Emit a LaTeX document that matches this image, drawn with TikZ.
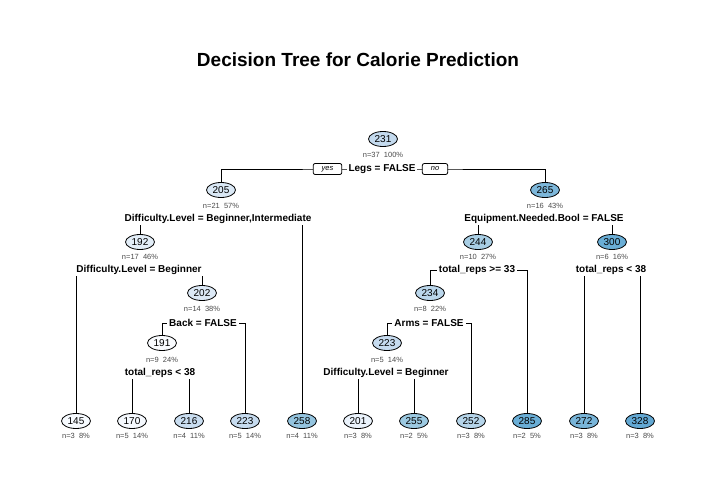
\documentclass[tikz,border=0pt]{standalone}
\usepackage{fontspec}
\setmainfont{Liberation Sans}
\usetikzlibrary{backgrounds,shapes.geometric}
\usepackage{xcolor}

% fill shades of the fitted values
\definecolor{v145}{HTML}{F7FBFF}
\definecolor{v170}{HTML}{F5F9FE}
\definecolor{v191}{HTML}{F9FBFE}
\definecolor{v192}{HTML}{E3EEF8}
\definecolor{v201}{HTML}{EAF2FB}
\definecolor{v202}{HTML}{DCE9F6}
\definecolor{v205}{HTML}{DAE8F5}
\definecolor{v216}{HTML}{C9DDF0}
\definecolor{v223}{HTML}{C6DBEF}
\definecolor{v231}{HTML}{C4DAEE}
\definecolor{v234}{HTML}{BAD6EB}
\definecolor{v244}{HTML}{A8CEE4}
\definecolor{v252}{HTML}{B5D4E9}
\definecolor{v255}{HTML}{9CC9E1}
\definecolor{v258}{HTML}{94C4DF}
\definecolor{v265}{HTML}{7DB7DA}
\definecolor{v272}{HTML}{79B5D9}
\definecolor{v285}{HTML}{6AAED6}
\definecolor{v300}{HTML}{6AAED6}
\definecolor{v328}{HTML}{63A8D3}
\definecolor{infogray}{HTML}{4A4A4A}

\begin{document}
\begin{tikzpicture}[x=1bp,y=-1bp,line width=0.8bp,
    est/.style={ellipse,draw,line width=0.8bp,minimum width=29bp,minimum height=15bp,inner sep=0pt,
        font=\fontsize{10bp}{12bp}\selectfont},
    info/.style={inner sep=0pt,text=infogray,font=\fontsize{7.5bp}{8bp}\selectfont},
    rule/.style={fill=white,inner xsep=2bp,inner ysep=1bp,font=\bfseries\fontsize{10bp}{12bp}\selectfont},
    tag/.style={draw,fill=white,rounded corners=2bp,line width=0.8bp,inner xsep=8.5bp,inner ysep=0pt,
        minimum height=11bp,text height=5bp,text depth=1.5bp,font=\itshape\fontsize{7.5bp}{8bp}\selectfont}]
\useasboundingbox (0,0) rectangle (717,481);

\node[font=\bfseries\fontsize{19bp}{22bp}\selectfont] (title) at (358,60) {Decision Tree for Calorie Prediction};

% root
\node[est,fill=v231] (n1) at (383,139) {231};
\node[info] (t1) at (383,155) {n=37~~100\%};
\node[rule] (q1) at (382,169) {Legs = FALSE};
\node[tag] (yes) at (327.5,169) {yes};
\node[tag] (no) at (435,169) {no};

% left side
\node[est,fill=v205] (n2) at (221,190) {205};
\node[info] (t2) at (221,206) {n=21~~57\%};
\node[rule] (q2) at (218,219) {Difficulty.Level = Beginner,Intermediate};

\node[est,fill=v192] (n4) at (140,242) {192};
\node[info] (t4) at (140,257) {n=17~~46\%};
\node[rule] (q4) at (139,270) {Difficulty.Level = Beginner};

\node[est,fill=v202] (n9) at (202,293) {202};
\node[info] (t9) at (202,309) {n=14~~38\%};
\node[rule] (q9) at (203,323) {Back = FALSE};

\node[est,fill=v191] (n18) at (162,343) {191};
\node[info] (t18) at (162,360) {n=9~~24\%};
\node[rule] (q18) at (160,373) {total\_reps < 38};

% right side
\node[est,fill=v265] (n3) at (545,190) {265};
\node[info] (t3) at (545,206) {n=16~~43\%};
\node[rule] (q3) at (544,219) {Equipment.Needed.Bool = FALSE};

\node[est,fill=v244] (n6) at (478,242) {244};
\node[info] (t6) at (478,257) {n=10~~27\%};
\node[rule] (q6) at (477,270) {total\_reps >= 33};

\node[est,fill=v300] (n7) at (612,242) {300};
\node[info] (t7) at (612,257) {n=6~~16\%};
\node[rule] (q7) at (611,270) {total\_reps < 38};

\node[est,fill=v234] (n12) at (430,293) {234};
\node[info] (t12) at (430,309) {n=8~~22\%};
\node[rule] (q12) at (429,323) {Arms = FALSE};

\node[est,fill=v223] (n24) at (387,343) {223};
\node[info] (t24) at (387,360) {n=5~~14\%};
\node[rule] (q24) at (386,373) {Difficulty.Level = Beginner};

% leaves
\node[est,fill=v145] (n8) at (76,421) {145};
\node[info] (t8) at (76,436) {n=3~~8\%};
\node[est,fill=v170] (n36) at (132,421) {170};
\node[info] (t36) at (132,436) {n=5~~14\%};
\node[est,fill=v216] (n37) at (189,421) {216};
\node[info] (t37) at (189,436) {n=4~~11\%};
\node[est,fill=v223] (n19) at (245,421) {223};
\node[info] (t19) at (245,436) {n=5~~14\%};
\node[est,fill=v258] (n5) at (302,421) {258};
\node[info] (t5) at (302,436) {n=4~~11\%};
\node[est,fill=v201] (n48) at (358,421) {201};
\node[info] (t48) at (358,436) {n=3~~8\%};
\node[est,fill=v255] (n49) at (414,421) {255};
\node[info] (t49) at (414,436) {n=2~~5\%};
\node[est,fill=v252] (n25) at (471,421) {252};
\node[info] (t25) at (471,436) {n=3~~8\%};
\node[est,fill=v285] (n13) at (527,421) {285};
\node[info] (t13) at (527,436) {n=2~~5\%};
\node[est,fill=v272] (n14) at (584,421) {272};
\node[info] (t14) at (584,436) {n=3~~8\%};
\node[est,fill=v328] (n15) at (640,421) {328};
\node[info] (t15) at (640,436) {n=3~~8\%};

% branches
\begin{scope}[on background layer]
\draw (n2.north) |- (q1.center) -| (n3.north);
\draw (n4.north) |- (q2.center) -| (n5.north);
\draw (n8.north) |- (q4.center) -| (n9.north);
\draw (n18.north) |- (q9.center) -| (n19.north);
\draw (n36.north) |- (q18.center) -| (n37.north);
\draw (n6.north) |- (q3.center) -| (n7.north);
\draw (n12.north) |- (q6.center) -| (n13.north);
\draw (n14.north) |- (q7.center) -| (n15.north);
\draw (n24.north) |- (q12.center) -| (n25.north);
\draw (n48.north) |- (q24.center) -| (n49.north);
\end{scope}
\end{tikzpicture}
\end{document}
